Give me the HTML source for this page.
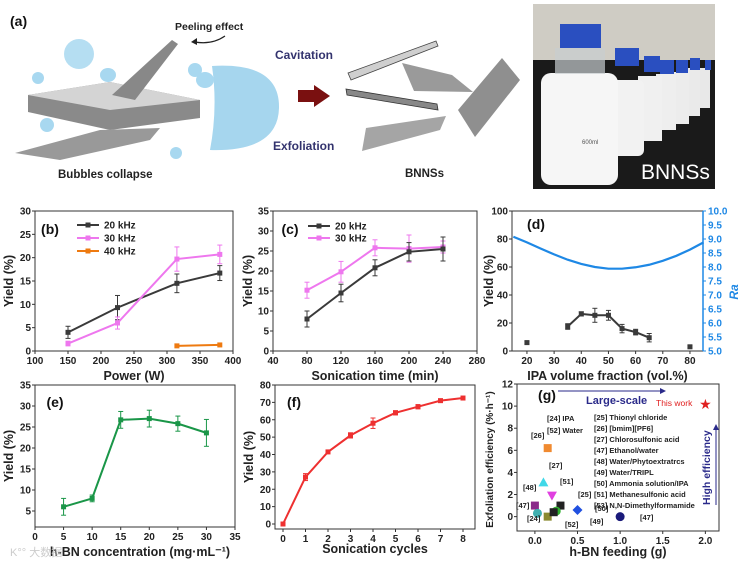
<!DOCTYPE html>
<html><head><meta charset="utf-8">
<style>
html,body{margin:0;padding:0;background:#fff;}
svg{display:block;font-family:"Liberation Sans",Arial,sans-serif;}
.t{font-size:10px;font-weight:bold;fill:#222;}
.at{font-size:12.5px;font-weight:bold;fill:#222;}
.pl{font-size:14px;font-weight:bold;fill:#111;}
.lg{font-size:10px;font-weight:bold;fill:#222;}
</style></head>
<body>
<svg id="fig" width="744" height="564" viewBox="0 0 744 564" xmlns="http://www.w3.org/2000/svg">
<g>
  <text x="10" y="26" class="pl">(a)</text>
  <text x="175" y="30" font-size="10.5" font-weight="bold" fill="#222">Peeling effect</text>
  <path d="M225 36 Q212 45 195 42" stroke="#222" stroke-width="1.2" fill="none"/>
  <path d="M191 42 l6 -4 l0 7 z" fill="#222"/>
  <circle cx="79" cy="54" r="15" fill="#a8d8f0" opacity="0.85"/>
  <path d="M212 66 Q280 62 279 108 Q278 152 210 150 Q218 108 212 66 Z" fill="#a6d6ee"/>
  <ellipse cx="38" cy="78" rx="6" ry="6" fill="#a8d8f0"/>
  <ellipse cx="47" cy="125" rx="7" ry="7" fill="#a8d8f0"/>
  <ellipse cx="195" cy="70" rx="7" ry="7" fill="#a8d8f0"/>
  <ellipse cx="205" cy="80" rx="9" ry="8" fill="#a8d8f0"/>
  <ellipse cx="176" cy="153" rx="6" ry="6" fill="#a8d8f0"/>
  <ellipse cx="108" cy="75" rx="8" ry="7" fill="#a8d8f0"/>
  <ellipse cx="80" cy="145" rx="9" ry="8" fill="#a8d8f0"/>
  <polygon points="28,95 110,82 200,100 200,118 110,130 28,112" fill="#8a8a8a"/>
  <polygon points="28,95 110,82 200,100 110,110" fill="#d4d4d4"/>
  <polygon points="112,95 172,40 178,44 135,100" fill="#888"/>
  <polygon points="15,153 100,130 160,128 150,140 60,160" fill="#999"/>
  <text x="275" y="59" font-size="12" font-weight="bold" fill="#33336e">Cavitation</text>
  <text x="273" y="150" font-size="12" font-weight="bold" fill="#33336e">Exfoliation</text>
  <polygon points="298,90 314,90 314,85 330,96 314,107 314,102 298,102" fill="#7a1010"/>
  <text x="58" y="178" font-size="11.5" font-weight="bold" fill="#222">Bubbles collapse</text>
  <polygon points="348,73 436,41 438,46 351,80" fill="#cfcfcf" stroke="#444" stroke-width="0.8"/>
  <polygon points="346,89 437,104 438,110 347,95" fill="#888" stroke="#333" stroke-width="0.8"/>
  <polygon points="402,63 452,75 473,92 414,91" fill="#9a9a9a"/>
  <polygon points="366,128 446,116 440,130 362,151" fill="#a5a5a5"/>
  <polygon points="458,110 502,58 520,80 475,137" fill="#8f8f8f"/>
  <text x="405" y="177" font-size="11.5" font-weight="bold" fill="#222">BNNSs</text>
  <g>
    <rect x="533" y="4" width="182" height="185" fill="#1a1a1a"/>
    <rect x="533" y="4" width="182" height="56" fill="#cfccc4"/>
    <rect x="700" y="68" width="10" height="40" fill="#e8e8e8"/><rect x="705" y="60" width="6" height="10" fill="#2a4fc0"/>
    <rect x="688" y="68" width="12" height="48" fill="#eaeaea"/><rect x="690" y="58" width="10" height="12" fill="#2a4fc0"/>
    <rect x="673" y="72" width="16" height="52" fill="#ececec"/><rect x="676" y="60" width="12" height="13" fill="#2a4fc0"/>
    <rect x="656" y="74" width="20" height="56" fill="#eeeeee"/><rect x="660" y="60" width="14" height="14" fill="#2a4fc0"/>
    <rect x="638" y="76" width="24" height="65" fill="#f0f0f0"/><rect x="644" y="56" width="16" height="16" fill="#2a4fc0"/>
    <rect x="610" y="80" width="34" height="76" rx="6" fill="#f2f2f2"/><rect x="615" y="48" width="24" height="18" fill="#2a4fc0"/>
    <rect x="541" y="73" width="77" height="112" rx="10" fill="#f6f6f6"/><rect x="560" y="24" width="41" height="24" fill="#2a4fc0"/>
    <rect x="555" y="48" width="50" height="26" fill="#c8cdd0" opacity="0.7"/>
    <text x="582" y="144" font-size="6" fill="#555">600ml</text>
    <text x="641" y="179" font-size="21" fill="#fff">BNNSs</text>
  </g>
</g>
<g id="charts"></g>
<g font-size="7.5" font-weight="bold" fill="#222">
  <text x="547" y="421">[24] IPA</text>
  <text x="547" y="433">[52] Water</text>
  <text x="594" y="420">[25] Thionyl chloride</text>
  <text x="594" y="431">[26] [bmim][PF6]</text>
  <text x="594" y="442">[27] Chlorosulfonic acid</text>
  <text x="594" y="453">[47] Ethanol/water</text>
  <text x="594" y="464">[48] Water/Phytoextratrcs</text>
  <text x="594" y="475">[49] Water/TRIPL</text>
  <text x="594" y="486">[50] Ammonia solution/IPA</text>
  <text x="594" y="497">[51] Methanesulfonic acid</text>
  <text x="594" y="508">[53] N,N-Dimethylformamide</text>
  <text x="586" y="404" font-size="11" fill="#2a2a8a">Large-scale</text>
  <line x1="558" y1="391" x2="660" y2="391" stroke="#2a2a8a" stroke-width="1"/>
  <path d="M660 388 l6 3 l-6 3z" fill="#2a2a8a"/>
  <text x="656" y="406" font-size="8.5" fill="#e02020" font-weight="normal">This work</text>
  <line x1="716" y1="505" x2="716" y2="430" stroke="#2a2a8a" stroke-width="1"/>
  <path d="M713 430 l3 -6 l3 6z" fill="#2a2a8a"/>
  <text transform="translate(710,505) rotate(-90)" font-size="10.5" fill="#2a2a8a">High efficiency</text>
</g>
<text x="10" y="556" font-size="11" fill="#ccc">K°° 大数据</text>
</svg>
<script>
// Panel b data
const bX = [150, 225, 315, 380];
const b20 = [4.0, 9.3, 14.5, 16.7];
const b20e = [1.3, 2.6, 2.0, 1.6];
const b30 = [1.6, 6.0, 19.7, 20.7];
const b30e = [0.5, 1.3, 2.6, 2.0];
const b40X = [315, 380];
const b40 = [1.1, 1.3];
const bXTicks = [100, 150, 200, 250, 300, 350, 400];
const bYTicks = [0, 5, 10, 15, 20, 25, 30];
// Panel c data
const cX = [80, 120, 160, 200, 240];
const c20 = [8.0, 14.5, 20.8, 24.8, 25.5];
const c20e = [2.0, 2.2, 2.0, 2.3, 3.0];
const c30 = [15.2, 19.8, 25.8, 25.6, 26.0];
const c30e = [2.0, 2.6, 2.0, 3.4, 1.5];
const cXTicks = [40, 80, 120, 160, 200, 240, 280];
const cYTicks = [0, 5, 10, 15, 20, 25, 30, 35];
// Panel d data
const dX = [20, 35, 40, 45, 50, 55, 60, 65, 80];
const dY = [6, 17.5, 26.5, 25.5, 25.5, 16, 13.5, 9.5, 3];
const dE = [1, 2, 1.5, 5, 3.5, 3, 2, 3, 0.8];
const dRaX = [15, 20, 25, 30, 35, 40, 45, 50, 55, 60, 65, 70, 75, 80, 85];
const dRa = [9.08, 8.88, 8.66, 8.45, 8.26, 8.11, 8.00, 7.94, 7.94, 7.99, 8.08, 8.22, 8.40, 8.62, 8.88];
const dXTicks = [20, 30, 40, 50, 60, 70, 80];
const dYTicks = [0, 20, 40, 60, 80, 100];
const dRTicks = ['5.0','5.5','6.0','6.5','7.0','7.5','8.0','8.5','9.0','9.5','10.0'];
// Panel e data
const eX = [5, 10, 15, 20, 25, 30];
const eY = [6.0, 8.0, 26.7, 27.0, 25.8, 23.6];
const eE = [2.0, 0.8, 2.0, 2.0, 1.8, 3.2];
const eXTicks = [0, 5, 10, 15, 20, 25, 30, 35];
const eYTicks = [5, 10, 15, 20, 25, 30, 35];
// Panel f data
const fX = [0, 1, 2, 3, 4, 5, 6, 7, 8];
const fY = [0, 27, 41.5, 51, 58, 64, 67.5, 71, 72.5];
const fE = [0.5, 2, 1, 1.5, 3, 1.2, 1.2, 0.6, 0.6];
const fXTicks = [0, 1, 2, 3, 4, 5, 6, 7, 8];
const fYTicks = [0, 10, 20, 30, 40, 50, 60, 70, 80];
// Panel g data
const gLabels = ['This work', '[26]', '[27]', '[51]', '[48]', '[25]', '[50]', '[47]', '[47]b', '[24]', '[52]', '[49]'];
const gX = [2.0, 0.15, 0.1, 0.2, 0.0, 0.3, 0.5, 0.03, 1.0, 0.15, 0.25, 0.22];
const gY = [10.2, 6.2, 3.1, 1.9, 1.0, 1.0, 0.6, 0.3, 0.0, 0.0, 0.5, 0.4];
const gXTicks = [0.0, 0.5, 1.0, 1.5, 2.0];
const gYTicks = [0, 2, 4, 6, 8, 10, 12];

const NS = 'http://www.w3.org/2000/svg';
const root = document.getElementById('charts');
function el(tag, attrs, parent) {
  const e = document.createElementNS(NS, tag);
  for (const k in attrs) e.setAttribute(k, attrs[k]);
  (parent || root).appendChild(e);
  return e;
}
function lin(d0, d1, r0, r1) { return v => r0 + (v - d0) / (d1 - d0) * (r1 - r0); }

function frame(g, L, R, T, B, xs, ys, xt, yt, xfmt, yfmt) {
  const fr = el('rect', {x: L, y: T, width: R - L, height: B - T, fill: 'none', stroke: '#333', 'stroke-width': 1}, g);
  
  
  xt.forEach(v => {
    const x = xs(v);
    el('line', {x1: x, y1: B, x2: x, y2: B + 3, stroke: '#333'}, g);
    const t = el('text', {x: x, y: B + 13, 'text-anchor': 'middle', class: 't'}, g);
    t.textContent = xfmt ? xfmt(v) : v;
    
    
  });
  yt.forEach(v => {
    const y = ys(v);
    el('line', {x1: L, y1: y, x2: L - 3, y2: y, stroke: '#333'}, g);
    const t = el('text', {x: L - 4, y: y + 3.5, 'text-anchor': 'end', class: 't'}, g);
    t.textContent = yfmt ? yfmt(v) : v;
    
    
  });
}
function series(g, xs, ys, X, Y, E, color, marker, name, noLine) {
  const sg = el('g', {}, g);
  
  
  if (!noLine) {
    el('polyline', {points: X.map((x, i) => xs(x) + ',' + ys(Y[i])).join(' '), fill: 'none', stroke: color, 'stroke-width': 2}, sg);
  }
  X.forEach((x, i) => {
    const px = xs(x), py = ys(Y[i]);
    if (E) {
      const e = E[i];
      el('line', {x1: px, y1: ys(Y[i] - e), x2: px, y2: ys(Y[i] + e), stroke: color, 'stroke-width': 1}, sg);
      el('line', {x1: px - 2.5, y1: ys(Y[i] - e), x2: px + 2.5, y2: ys(Y[i] - e), stroke: color}, sg);
      el('line', {x1: px - 2.5, y1: ys(Y[i] + e), x2: px + 2.5, y2: ys(Y[i] + e), stroke: color}, sg);
    }
    const m = el('rect', {x: px - 2.5, y: py - 2.5, width: 5, height: 5, fill: color}, sg);
    
    
  });
}
function label(g, x, y, txt, name, cls, rot) {
  const t = el('text', {x: x, y: y, class: cls || 'at', 'text-anchor': 'middle'}, g);
  if (rot) t.setAttribute('transform', 'rotate(-90 ' + x + ' ' + y + ')');
  t.textContent = txt;
  
  
  return t;
}
function legend(g, x, y, color, txt) {
  el('line', {x1: x, y1: y, x2: x + 22, y2: y, stroke: color, 'stroke-width': 2}, g);
  el('rect', {x: x + 8.5, y: y - 2.5, width: 5, height: 5, fill: color}, g);
  const t = el('text', {x: x + 27, y: y + 3.5, class: 'lg'}, g);
  t.textContent = txt;
  
  
}

// ---- Panel b
{
  const g = el('g', {});
  
  
  const L = 35, R = 233, T = 211, B = 351;
  const xs = lin(100, 400, L, R), ys = lin(0, 30, B, T);
  frame(g, L, R, T, B, xs, ys, bXTicks, bYTicks);
  series(g, xs, ys, bX, b20, b20e, '#3a3a3a', 's', 'series-20khz');
  series(g, xs, ys, bX, b30, b30e, '#ee77ee', 's', 'series-30khz');
  series(g, xs, ys, b40X, b40, null, '#ee7a10', 's', 'series-40khz');
  label(g, 50, 234, '(b)', 'panel-b-label', 'pl');
  legend(g, 77, 225, '#3a3a3a', '20 kHz');
  legend(g, 77, 238, '#ee77ee', '30 kHz');
  legend(g, 77, 251, '#ee7a10', '40 kHz');
  label(g, (L + R) / 2, 380, 'Power (W)', 'x-axis-title-b');
  label(g, 13, (T + B) / 2, 'Yield (%)', 'y-axis-title-b', 'at', true);
}
// ---- Panel c
{
  const g = el('g', {});
  
  
  const L = 273, R = 477, T = 211, B = 351;
  const xs = lin(40, 280, L, R), ys = lin(0, 35, B, T);
  frame(g, L, R, T, B, xs, ys, cXTicks, cYTicks);
  series(g, xs, ys, cX, c30, c30e, '#ee77ee', 's', 'series-30khz');
  series(g, xs, ys, cX, c20, c20e, '#3a3a3a', 's', 'series-20khz');
  label(g, 290, 234, '(c)', 'panel-c-label', 'pl');
  legend(g, 308, 226, '#3a3a3a', '20 kHz');
  legend(g, 308, 238, '#ee77ee', '30 kHz');
  label(g, (L + R) / 2, 380, 'Sonication time (min)', 'x-axis-title-c');
  label(g, 252, (T + B) / 2, 'Yield (%)', 'y-axis-title-c', 'at', true);
}
// ---- Panel d
{
  const g = el('g', {});
  
  
  const L = 512, R = 703, T = 211, B = 351;
  const xs = lin(14.5, 84.8, L, R), ys = lin(0, 100, B, T), rs = lin(5, 10, B, T);
  frame(g, L, R, T, B, xs, ys, dXTicks, dYTicks);
  el('line', {x1: R, y1: T, x2: R, y2: B, stroke: '#1e88e5', 'stroke-width': 1.5}, g);
  dRTicks.forEach(v => {
    const y = rs(parseFloat(v));
    el('line', {x1: R, y1: y, x2: R + 3, y2: y, stroke: '#1e88e5'}, g);
    const t = el('text', {x: R + 5, y: y + 3.5, class: 't', style: 'fill:#1e88e5'}, g);
    t.textContent = v;
    
    
  });
  const ra = el('polyline', {points: dRaX.map((x, i) => xs(x) + ',' + rs(dRa[i])).join(' '), fill: 'none', stroke: '#1e88e5', 'stroke-width': 2.2}, g);
  
  
  series(g, xs, ys, dX.slice(1, 8), dY.slice(1, 8), dE.slice(1, 8), '#3a3a3a', 's', 'yield-series');
  series(g, xs, ys, [dX[0], dX[8]], [dY[0], dY[8]], [dE[0], dE[8]], '#3a3a3a', 's', 'yield-isolated', true);
  label(g, 536, 229, '(d)', 'panel-d-label', 'pl');
  label(g, (L + R) / 2, 380, 'IPA volume fraction  (vol.%)', 'x-axis-title-d');
  label(g, 493, (T + B) / 2, 'Yield (%)', 'y-axis-title-d', 'at', true);
  const ra2 = label(g, 738, 292, 'Ra', 'right-axis-title', 'at', true);
  ra2.setAttribute('style', 'fill:#1e88e5;font-style:italic;font-size:12px');
}
// ---- Panel e
{
  const g = el('g', {});
  
  
  const L = 35, R = 235, T = 385, B = 527;
  const xs = lin(0, 35, L, R), ys = lin(0, 35, 532, T);
  frame(g, L, R, T, B, xs, ys, eXTicks, eYTicks);
  series(g, xs, ys, eX, eY, eE, '#1a9648', 's', 'yield-series');
  label(g, 55, 407, '(e)', 'panel-e-label', 'pl');
  label(g, 140, 556, 'h-BN concentration (mg·mL⁻¹)', 'x-axis-title-e');
  label(g, 13, (T + B) / 2, 'Yield (%)', 'y-axis-title-e', 'at', true);
}
// ---- Panel f
{
  const g = el('g', {});
  
  
  const L = 275, R = 475, T = 385, B = 529;
  const xs = lin(0, 8, 283, 463), ys = lin(0, 80, 524, T);
  frame(g, L, R, T, B, xs, ys, fXTicks, fYTicks);
  series(g, xs, ys, fX, fY, fE, '#ee3030', 's', 'yield-series');
  label(g, 294, 407, '(f)', 'panel-f-label', 'pl');
  label(g, (L + R) / 2, 553, 'Sonication cycles', 'x-axis-title-f');
  label(g, 253, (T + B) / 2, 'Yield (%)', 'y-axis-title-f', 'at', true);
}
// ---- Panel g
{
  const g = el('g', {});
  
  
  const L = 517, R = 719, T = 384, B = 531;
  const xs = lin(-0.21, 2.16, L, R), ys = lin(-1.3, 12, B, T);
  frame(g, L, R, T, B, xs, ys, gXTicks, gYTicks, v => v.toFixed(1));
  const colors = ['#e02020', '#f08a30', '#40d8e8', '#e040e0', '#8a2a8a', '#222', '#2050e0', '#40b0b0', '#1a1a7a', '#8a8a30', '#30b030', '#222'];
  gX.forEach((x, i) => {
    const px = xs(x), py = ys(gY[i]);
    let m;
    if (i === 0) {
      m = el('text', {x: px, y: py + 5, 'text-anchor': 'middle', 'font-size': 14, fill: colors[i]}, g);
      m.textContent = '★';
    } else if (i === 2) {
      m = el('polygon', {points: `${px},${py - 5} ${px - 5},${py + 4} ${px + 5},${py + 4}`, fill: colors[i]}, g);
    } else if (i === 3) {
      m = el('polygon', {points: `${px},${py + 5} ${px - 5},${py - 4} ${px + 5},${py - 4}`, fill: colors[i]}, g);
    } else if (i === 6) {
      m = el('polygon', {points: `${px},${py - 5} ${px + 5},${py} ${px},${py + 5} ${px - 5},${py}`, fill: colors[i]}, g);
    } else if (i === 7 || i === 8 || i === 10) {
      m = el('circle', {cx: px, cy: py, r: 4.5, fill: colors[i]}, g);
    } else {
      m = el('rect', {x: px - 4, y: py - 4, width: 8, height: 8, fill: colors[i]}, g);
    }
    
    
  });
  const refs = [['[26]', 531, 438], ['[27]', 549, 468], ['[51]', 560, 484], ['[48]', 523, 490], ['[25]', 578, 497], ['[50]', 595, 511], ['[47]', 516, 508], ['[47]', 640, 520], ['[24]', 527, 521], ['[52]', 565, 527], ['[49]', 590, 524]];
  refs.forEach(r => {
    const t = el('text', {x: r[1], y: r[2], 'font-size': 7.5, 'font-weight': 'bold', fill: '#222'}, g);
    t.textContent = r[0];
    
    
  });
  label(g, 547, 400, '(g)', 'panel-g-label', 'pl');
  label(g, (L + R) / 2, 556, 'h-BN feeding (g)', 'x-axis-title-g');
  label(g, 493, (T + B) / 2 + 2, 'Exfoliation efficiency (%·h⁻¹)', 'y-axis-title-g', 'at', true).setAttribute('style', 'font-size:10px');
}
</script>
</body></html>
